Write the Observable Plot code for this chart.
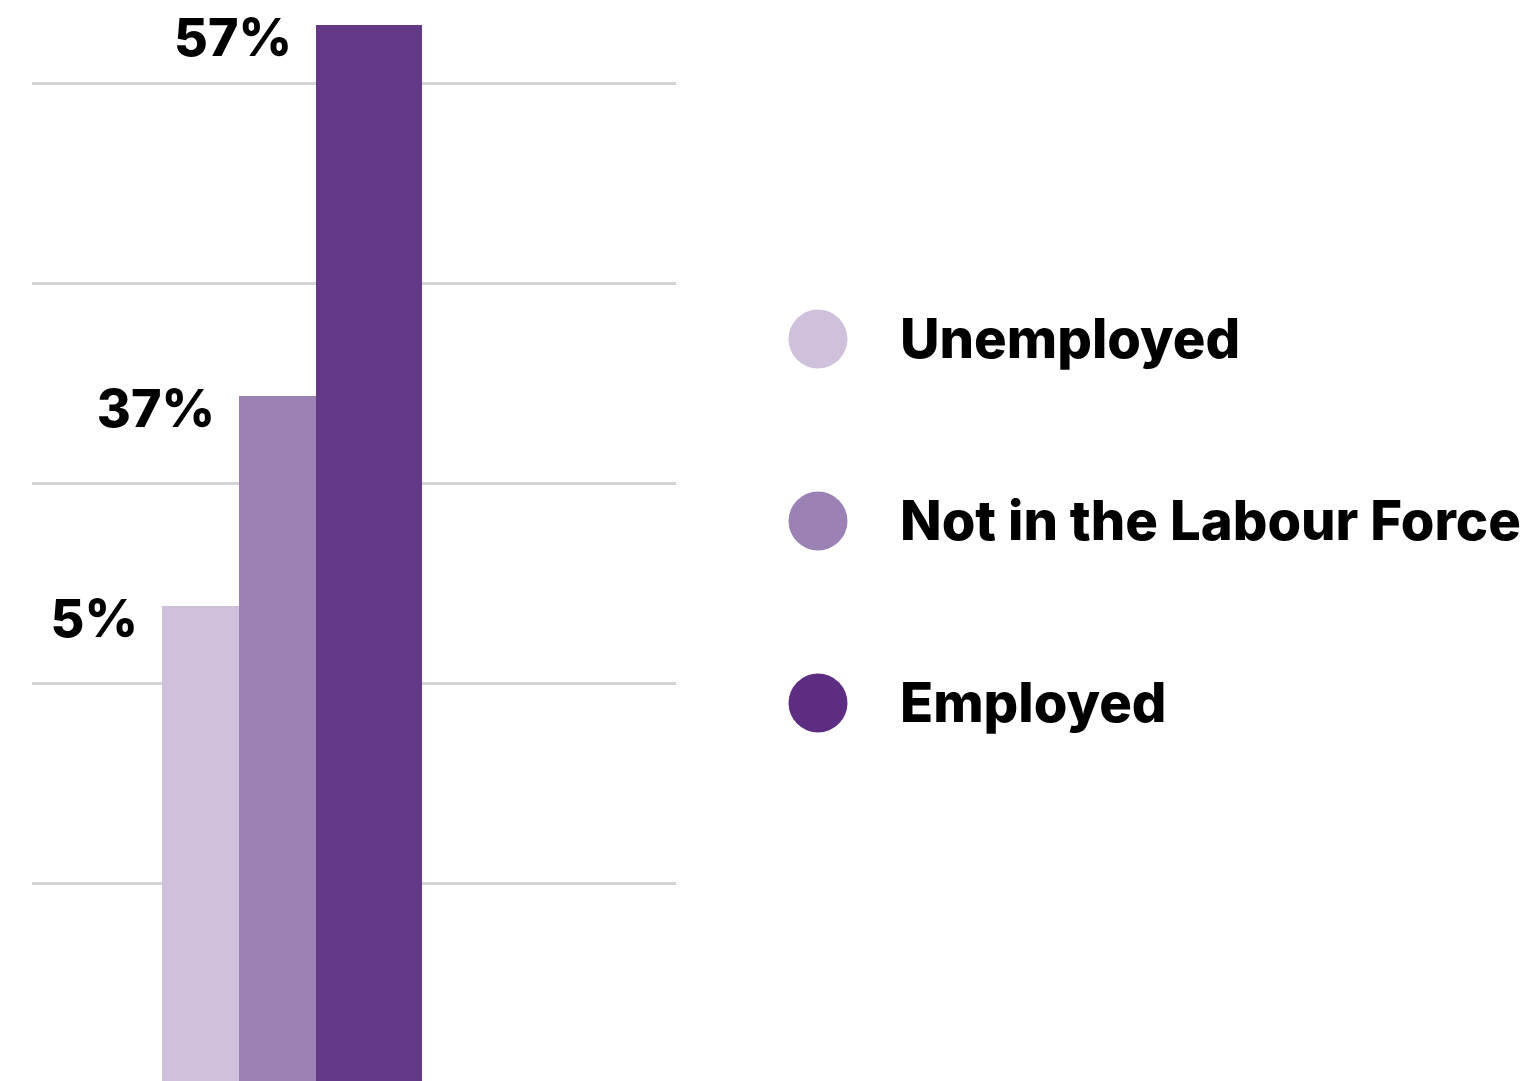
<!DOCTYPE html>
<html><head><meta charset="utf-8">
<script src="https://cdn.jsdelivr.net/npm/d3@7"></script>
<script src="https://cdn.jsdelivr.net/npm/@observablehq/plot@0.6"></script>
<style>
  body{margin:0;background:#fff;}
  #wrap{position:relative;width:1531px;height:1081px;overflow:hidden;}
  #legend{position:absolute;left:0;top:0;}
</style>
</head><body><div id="wrap"></div>
<script>
// ---- data ----
const categories = ["Unemployed", "Not in the Labour Force", "Employed"];
const percentLabels = ["5%", "37%", "57%"];          // printed values
const barHeights = [23.85, 34.35, 52.9];              // drawn bar heights (gridline units)
const gridTicks = [10, 20, 30, 40, 50];
const colors = ["#cec0db", "#9c82b4", "#633887"];
const legendColors = ["#cfc0dc", "#9c82b4", "#5c2d82"];

const rows = categories.map((c, i) => ({category: c, height: barHeights[i], label: percentLabels[i]}));

const W = 1531, H = 1081;
const chart = Plot.plot({
  width: W, height: H,
  marginLeft: 32, marginRight: W - 676, marginTop: 0, marginBottom: 0,
  style: {background: "#fff", overflow: "visible"},
  x: {type: "band", domain: categories, range: [162, 393], padding: 0, axis: null},
  y: {domain: [0, 54.15], range: [1083, 0], axis: null},
  color: {domain: categories, range: colors},
  marks: [
    Plot.ruleY(gridTicks, {stroke: "#d4d4d6", strokeWidth: 3}),
    Plot.rectY(rows, {x: "category", y: "height", fill: "category", insetRight: -29}),
    Plot.text(rows, {
      x: "category", y: "height", text: "label",
      textAnchor: "end", lineAnchor: "bottom",
      dx: -63, dy: 30,
      fontFamily: "Inter", fontWeight: 800, fontSize: 52, fill: "#000"
    })
  ]
});
document.getElementById("wrap").appendChild(chart);

// ---- legend ----
const legend = d3.select("#wrap").append("svg").attr("id", "legend")
  .attr("width", W).attr("height", H);
const ly = d3.scalePoint().domain(categories).range([339, 703]);
const item = legend.selectAll("g").data(categories).join("g")
  .attr("transform", d => `translate(818,${ly(d)})`);
item.append("circle").attr("r", 29.5).attr("fill", (d, i) => legendColors[i]);
item.append("text").attr("x", 82).attr("y", 19)
  .attr("font-family", "Inter").attr("font-weight", 800).attr("font-size", 54.4)
  .attr("fill", "#000").text(d => d);
</script></body></html>
